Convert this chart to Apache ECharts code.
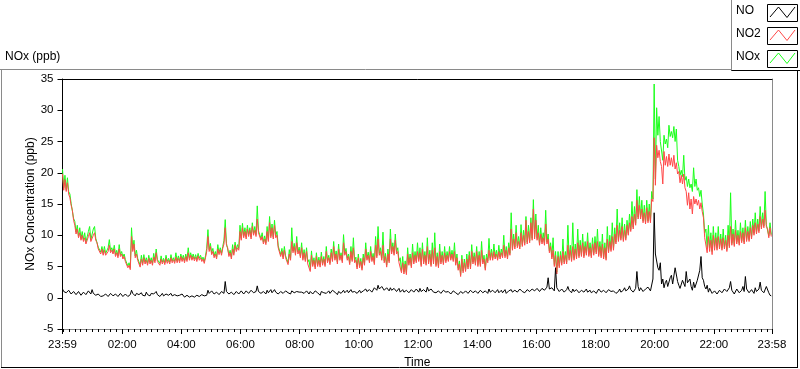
<!DOCTYPE html>
<html>
<head>
<meta charset="utf-8">
<script src="https://cdn.jsdelivr.net/npm/echarts@6/dist/echarts.min.js"></script>
<style>
html,body{margin:0;padding:0;background:#fff;}
#chart{width:800px;height:369px;}
</style>
</head>
<body>
<div id="chart"></div>
<script>
// time axis: minutes from midnight; first sample at 23:59 (-1), one sample every 2.5 min
const startMinute = -1;
const stepMinutes = 2.5;

const no = [
1.4,1.0, 1.2,0.8, 0.9,1.2, 1.0,0.6, 0.7,1.0, 0.9,0.5, 0.6,1.0, 0.8,0.4, 0.5,0.9, 0.9,0.5,
0.7,1.1, 1.0,0.6, 1.3,0.7, 0.8,0.4, 0.3,0.6, 0.4,0.2, 0.5,0.3, 0.3,0.6, 0.5,0.2, 0.4,0.7,
0.5,0.3, 0.3,0.6, 0.4,0.2, 0.5,0.7, 0.4,0.2,
0.4,0.6, 0.5,0.2, 0.3,0.5, 1.2,0.7, 0.6,0.3, 0.7,0.4, 0.5,0.8, 0.8,0.4, 0.6,0.3, 0.9,0.5,
0.5,0.3, 0.7,0.4, 0.6,0.9, 1.0,0.5, 0.4,0.2, 0.5,0.7, 0.3,0.5, 0.6,0.3, 0.4,0.6, 0.7,0.3,
0.3,0.5, 0.5,0.3, 0.6,0.4, 0.4,0.6,
0.3,0.1, 0.2,0.4, 0.4,0.1, 0.1,0.3, 0.3,0.1, 0.2,0.4, 0.4,0.2, 0.3,0.5, 0.5,0.3, 0.6,0.4,
1.2,0.7, 0.8,1.1, 0.9,0.6, 0.6,0.9, 0.8,0.5, 0.7,1.0, 1.0,0.7, 2.6,1.0, 0.9,0.6, 0.7,0.9,
0.8,0.5, 0.7,1.0, 0.9,0.6, 0.8,1.1,
0.9,0.6, 0.8,1.1, 1.0,0.7, 0.9,1.2, 1.1,0.8, 0.8,1.0, 1.9,1.0, 1.0,0.7, 0.7,1.0, 0.9,0.6,
1.2,0.8, 1.0,1.3, 0.8,0.5, 1.3,0.9, 0.9,0.6, 0.7,1.0, 1.0,0.7, 0.8,1.1, 1.2,0.8, 0.9,0.6,
1.1,1.4, 0.8,0.5, 1.0,1.3, 0.9,0.6,
0.9,1.2, 0.7,0.5, 1.1,0.8, 0.6,1.0, 0.9,0.6, 0.8,1.1, 1.2,0.8, 0.6,0.4, 1.0,1.3, 0.8,0.5,
0.7,1.0, 1.1,0.7, 0.9,1.2, 1.3,0.9, 0.8,0.5, 1.0,1.3, 0.7,0.5, 1.2,0.8, 0.9,1.2, 0.8,0.5,
1.3,0.9, 0.7,1.0, 1.0,0.7, 0.9,1.2,
0.8,1.1, 1.1,0.8, 1.4,1.0, 1.0,1.3, 1.3,0.9, 1.2,1.6, 1.6,1.2, 2.0,1.4, 1.4,1.8, 1.8,1.2,
1.2,1.6, 1.5,1.1, 1.6,1.2, 1.1,1.5, 1.4,1.0, 1.2,1.5, 0.9,1.2, 1.3,0.9, 0.8,1.2, 1.1,0.8,
0.9,1.3, 1.2,0.9, 1.0,1.4, 1.3,0.9,
1.5,1.0, 0.9,1.3, 1.3,0.9, 1.7,1.1, 1.0,1.4, 1.4,0.9, 1.2,0.8, 0.8,1.1, 1.1,0.7, 0.9,1.2,
1.3,0.9, 0.7,1.0, 1.0,0.6, 0.8,1.1, 1.2,0.8, 0.9,0.5, 0.6,1.0, 1.1,0.7, 0.8,1.1, 1.0,0.7,
0.9,1.2, 1.3,0.8, 0.8,1.1, 1.1,0.7,
0.9,1.2, 1.2,0.8, 0.8,1.1, 1.0,0.7, 1.4,0.9, 0.9,1.2, 1.1,0.8, 1.0,1.3, 0.8,1.1, 1.2,0.8,
1.0,1.3, 0.7,1.0, 1.1,0.8, 1.3,0.9, 0.9,1.2, 1.2,0.9, 1.0,1.4, 1.4,1.0, 1.1,0.8, 0.9,1.3,
1.3,1.0, 1.0,1.4, 1.6,1.1, 1.2,1.5,
1.4,1.0, 1.0,1.5, 1.8,1.2, 1.3,1.7, 3.2,1.4, 1.2,1.6, 1.6,1.1, 4.8,1.6, 1.5,1.0, 1.0,1.4,
1.3,0.9, 0.9,1.3, 1.8,1.2, 1.1,0.8, 1.4,1.0, 1.0,1.3, 1.2,0.8, 0.8,1.2, 1.3,0.9, 1.0,1.4,
0.9,1.2, 1.2,0.8, 0.7,1.1, 1.0,0.7,
1.0,1.4, 1.3,0.9, 0.8,1.2, 1.2,0.8, 0.9,1.3, 1.5,1.0, 0.7,1.1, 1.1,0.7, 0.6,1.0, 1.4,0.9,
0.8,1.2, 1.6,1.1, 1.0,1.4, 1.9,1.3, 1.2,0.9, 1.0,1.5, 4.2,1.8, 1.1,1.6, 1.5,1.0, 0.9,1.4,
1.2,1.7, 1.6,1.1, 1.1,3.0, 13.6,7.0,
6.8,4.8, 4.4,5.6, 2.2,3.0, 1.6,2.4, 2.8,1.8, 1.8,3.2, 3.6,2.2, 2.4,4.8, 4.6,2.6, 2.0,1.5,
1.7,2.8, 2.6,1.8, 4.2,2.4, 2.2,3.0, 1.8,1.2, 2.5,1.6, 1.6,2.8, 3.0,4.4, 6.6,3.2, 2.8,1.8,
1.4,2.0, 0.9,1.5, 1.2,0.7, 0.6,1.1,
1.0,0.6, 0.7,1.2, 1.3,0.8, 0.8,1.4, 1.5,1.0, 1.1,1.6, 2.6,1.2, 1.0,0.6, 0.9,1.4, 1.4,0.8,
0.7,1.2, 1.8,1.0, 3.4,1.4, 1.2,0.8, 0.8,1.3, 1.1,0.7, 1.6,1.0, 0.9,1.4, 2.5,1.2, 1.3,0.8,
1.0,1.8, 2.0,0.8, 0.4,0.3
];

const no2 = [
19.8,17.2, 18.9,17.0, 18.4,16.6, 16.0,14.8, 14.0,12.4, 11.6,10.2, 11.0,9.6, 10.4,9.2, 10.0,9.0, 9.6,8.6,
8.6,9.8, 10.4,9.0, 9.2,10.0, 10.4,9.2, 8.8,7.8, 7.8,7.0, 7.8,6.8, 7.6,6.8, 6.8,7.4, 8.4,7.2,
7.6,7.0, 7.8,6.6, 7.2,6.4, 7.8,6.6, 7.0,6.2,
6.6,5.8, 5.6,4.8, 5.2,4.5, 9.8,7.4, 8.6,6.4, 7.0,6.0, 5.8,4.9, 6.2,5.2, 6.4,5.4, 6.0,5.2,
6.3,5.4, 6.0,5.2, 6.5,5.6, 7.2,5.8, 6.0,5.2, 6.2,5.4, 6.0,5.3, 6.3,5.5, 6.0,5.4, 6.4,5.6,
6.1,5.5, 6.5,5.6, 6.3,5.6, 6.6,5.8,
6.4,5.6, 6.6,5.8, 7.2,6.0, 6.8,6.0, 6.6,5.9, 6.5,5.8, 6.7,6.0, 6.4,5.8, 6.2,5.5, 6.4,7.4,
9.8,7.4, 8.2,6.9, 7.4,6.4, 7.0,6.2, 7.8,6.9, 7.6,6.8, 7.9,8.6, 11.2,8.4, 8.0,6.6, 7.2,6.2,
7.8,6.8, 8.4,7.4, 8.0,7.6, 10.6,9.2,
11.2,9.6, 10.6,9.4, 11.0,9.8, 10.8,9.4, 11.4,10.0, 10.8,9.8, 12.6,10.4, 10.4,9.2, 9.8,8.6, 9.4,8.5,
10.6,9.0, 12.0,9.6, 11.2,9.4, 11.6,9.6, 10.0,8.0, 7.8,6.6, 7.4,6.2, 7.6,6.4, 6.4,5.3, 7.0,6.0,
9.0,7.2, 8.2,6.8, 8.8,7.0, 7.6,6.4,
8.0,6.0, 7.2,5.8, 7.4,5.4, 5.6,4.2, 6.8,5.0, 6.0,4.6, 6.6,5.0, 6.0,4.9, 6.6,5.2, 6.2,5.0,
7.4,5.6, 6.4,5.3, 7.2,5.8, 8.2,6.0, 7.0,5.4, 7.8,6.0, 6.8,5.6, 8.8,6.8, 7.4,6.0, 6.6,5.3,
7.4,5.8, 8.0,5.6, 6.0,4.6, 6.4,4.8,
5.8,4.4, 6.4,5.2, 7.8,6.0, 6.8,5.6, 7.4,5.8, 6.6,5.3, 8.4,6.4, 9.4,6.8, 7.4,6.0, 8.4,5.6,
6.6,4.9, 7.0,5.6, 9.4,7.0, 8.2,6.8, 9.2,7.0, 7.4,5.6, 5.8,4.0, 5.6,3.8, 5.4,3.7, 7.0,5.2,
6.4,4.8, 7.2,5.4, 6.8,5.6, 7.4,5.8,
7.2,5.0, 7.8,5.4, 6.8,5.2, 8.2,5.4, 7.0,5.0, 7.6,5.4, 8.0,5.0, 6.6,4.8, 7.4,5.4, 6.8,5.3,
7.2,5.6, 6.8,5.8, 7.4,6.0, 7.0,5.8, 7.4,5.2, 6.4,4.4, 5.4,3.4, 6.2,4.0, 5.6,4.2, 6.2,4.6,
6.8,4.6, 7.4,5.4, 6.6,5.2, 7.4,5.0,
6.8,5.0, 7.6,5.4, 6.2,4.4, 6.4,5.6, 7.6,6.0, 7.2,6.0, 7.4,6.2, 7.0,6.0, 7.4,6.2, 7.2,6.4,
8.4,6.4, 7.6,6.2, 8.0,6.8, 11.0,7.6, 9.4,7.8, 10.4,8.0, 9.0,7.8, 10.4,8.2, 10.0,8.4, 12.4,8.6,
10.6,8.8, 12.0,9.2, 14.2,9.4, 12.4,9.2,
10.4,8.4, 10.2,8.6, 9.6,8.4, 11.8,8.6, 9.4,7.2, 8.2,6.2, 7.6,5.0, 6.8,3.8, 6.6,4.8, 6.8,5.2,
7.4,5.4, 6.8,5.4, 8.4,6.0, 7.6,5.8, 8.2,6.0, 7.8,6.2, 8.8,6.4, 8.4,6.6, 8.8,6.4, 8.2,6.8,
9.0,6.6, 8.0,6.4, 8.6,6.8, 8.8,7.0,
9.0,6.6, 8.2,6.4, 8.6,6.2, 8.0,6.0, 9.4,7.2, 9.0,7.4, 9.8,7.6, 10.2,8.6, 11.6,9.0, 10.8,9.2,
11.4,9.0, 10.8,9.2, 11.6,10.0, 12.0,10.6, 13.0,11.0, 13.4,11.6, 15.6,12.6, 14.8,12.6, 14.2,12.0, 13.6,11.8,
14.4,12.0, 13.8,12.0, 15.8,15.4, 25.6,18.0,
24.4,22.4, 23.6,21.8, 21.0,18.2, 23.4,21.2, 22.6,21.0, 23.0,21.2, 22.4,21.0, 22.8,20.6, 21.6,19.8, 20.2,18.4,
19.6,18.2, 19.8,17.6, 17.0,14.8, 16.8,14.2, 15.8,13.4, 16.2,15.0, 15.8,14.8, 15.6,14.2, 15.2,13.8, 12.8,9.6,
9.8,7.2, 9.8,7.4, 9.2,6.9, 10.0,7.6,
9.6,7.6, 9.8,7.8, 9.4,7.6, 9.6,7.8, 9.2,7.4, 10.0,8.0, 11.4,8.4, 10.2,8.2, 10.8,8.6, 10.0,8.4,
10.6,8.8, 10.4,8.6, 11.2,9.0, 10.6,9.0, 11.2,9.4, 11.6,10.0, 12.0,10.2, 11.8,10.4, 13.0,11.0, 12.6,11.2,
14.0,11.4, 11.0,9.6, 11.2,9.8
];

const nox = [
20.6,17.6, 19.6,17.3, 19.2,17.0, 16.6,15.1, 14.8,12.7, 12.2,10.5, 11.6,9.9, 11.2,9.5, 10.6,9.3, 10.4,8.9,
8.9,10.6, 11.4,9.3, 9.5,11.0, 11.4,9.5, 9.4,8.1, 8.4,7.3, 8.2,7.1, 8.2,7.1, 7.1,8.0, 9.3,7.5,
8.0,7.3, 8.4,6.9, 7.6,6.7, 8.5,6.9, 7.4,6.5,
7.0,6.1, 6.0,5.1, 5.6,4.8, 11.2,7.7, 9.2,6.7, 7.6,6.3, 6.2,5.2, 6.8,5.5, 6.9,5.7, 6.4,5.5,
6.8,5.7, 6.4,5.5, 7.1,5.9, 7.8,6.1, 6.4,5.5, 6.7,5.7, 6.3,5.6, 6.8,5.8, 6.3,5.7, 6.9,5.9,
6.4,5.8, 7.2,5.9, 6.7,5.9, 7.0,6.1,
6.8,5.9, 7.0,6.1, 8.0,6.3, 7.2,6.3, 7.0,6.2, 6.9,6.1, 7.1,6.3, 6.8,6.1, 6.5,5.8, 6.7,7.9,
10.9,7.7, 8.7,7.2, 7.9,6.7, 7.4,6.5, 8.5,7.2, 8.0,7.1, 8.2,9.2, 12.5,8.7, 8.5,6.9, 7.6,6.5,
8.5,7.1, 8.9,7.7, 8.5,7.9, 11.6,9.5,
11.9,9.9, 11.2,9.7, 11.6,10.1, 11.2,9.7, 12.0,10.3, 11.4,10.1, 14.7,10.7, 10.9,9.5, 10.4,8.9, 9.9,8.8,
11.4,9.3, 13.0,9.9, 11.8,9.7, 12.4,9.9, 10.6,8.3, 8.3,6.9, 7.9,6.5, 8.2,6.7, 6.8,5.6, 7.7,6.3,
11.2,7.5, 8.7,7.1, 9.8,7.3, 8.1,6.7,
8.8,6.3, 7.7,6.1, 8.0,5.7, 6.1,4.5, 7.5,5.3, 6.4,4.9, 7.2,5.3, 6.5,5.2, 7.3,5.5, 6.6,5.3,
8.2,5.9, 6.8,5.6, 7.8,6.1, 9.0,6.3, 7.5,5.7, 8.6,6.3, 7.2,5.9, 10.1,7.1, 7.9,6.3, 7.0,5.6,
8.2,6.1, 9.6,5.9, 6.5,4.9, 7.0,5.1,
6.3,4.7, 7.0,5.5, 8.8,6.3, 7.3,5.9, 8.2,6.1, 7.1,5.6, 9.8,6.7, 11.4,7.1, 8.0,6.3, 10.5,5.9,
7.1,5.2, 7.8,5.9, 11.0,7.3, 8.8,7.1, 10.2,7.3, 8.0,5.9, 6.4,4.3, 6.6,4.1, 5.9,4.0, 8.0,5.5,
7.0,5.1, 8.6,5.7, 7.4,5.9, 8.8,6.1,
8.0,5.3, 8.8,5.7, 7.4,5.5, 9.6,5.7, 7.6,5.3, 8.8,5.7, 10.4,5.3, 7.2,5.1, 8.6,5.7, 7.4,5.6,
8.2,5.9, 7.4,6.1, 8.2,6.3, 7.6,6.1, 8.8,5.5, 7.0,4.7, 5.9,3.7, 6.8,4.3, 6.2,4.5, 7.0,4.9,
7.4,4.9, 8.5,5.7, 7.2,5.5, 8.2,5.3,
7.4,5.3, 9.0,5.7, 6.8,4.7, 7.0,5.9, 9.5,6.3, 7.8,6.3, 8.6,6.5, 7.6,6.3, 8.4,6.5, 7.8,6.7,
10.0,6.7, 8.2,6.5, 8.8,7.1, 13.6,7.9, 10.2,8.1, 11.6,8.3, 9.8,8.1, 11.7,8.5, 10.8,8.7, 13.0,8.9,
11.6,9.1, 12.8,9.5, 15.7,9.7, 13.4,9.5,
11.6,8.7, 11.2,8.9, 10.4,8.7, 14.0,8.9, 10.2,7.5, 8.8,6.5, 9.6,5.3, 7.4,4.1, 7.4,5.1, 7.4,5.5,
9.4,5.7, 7.4,5.7, 11.6,6.3, 8.4,6.1, 12.0,6.3, 8.6,6.5, 11.0,6.7, 9.2,6.9, 10.2,6.7, 9.0,7.1,
10.4,6.9, 8.8,6.7, 9.6,7.1, 9.8,7.3,
11.0,6.9, 9.0,6.7, 10.2,6.5, 8.8,6.3, 11.4,7.5, 10.0,7.7, 12.0,7.9, 11.2,8.9, 14.2,9.3, 12.0,9.5,
12.8,9.3, 11.8,9.5, 12.4,10.3, 13.4,10.9, 15.4,11.3, 14.6,11.9, 17.3,12.9, 16.2,12.9, 15.6,12.3, 14.8,12.1,
15.6,12.3, 15.0,12.3, 17.0,15.8, 34.2,19.0,
30.4,26.0, 29.0,25.0, 25.2,22.0, 26.0,24.6, 25.4,24.0, 27.6,25.8, 26.6,25.6, 27.4,25.0, 27.0,22.0, 21.0,19.6,
20.4,19.4, 22.8,18.8, 19.4,17.8, 19.0,17.6, 18.2,17.0, 20.8,17.8, 19.0,17.2, 17.6,16.2, 17.2,15.0, 13.4,10.4,
11.0,8.0, 11.6,8.0, 10.4,7.4, 11.4,8.2,
10.4,7.9, 11.4,8.1, 10.2,7.9, 11.0,8.1, 10.0,7.7, 11.6,8.3, 16.8,8.7, 11.0,8.5, 12.4,8.9, 10.8,8.7,
12.0,9.1, 11.2,8.9, 12.4,9.3, 11.4,9.3, 12.2,9.7, 12.6,10.3, 13.6,10.5, 12.6,10.7, 14.6,11.3, 13.6,11.5,
17.0,11.7, 11.6,9.9, 12.0,10.1
];

const tickMinutes = [-1,120,240,360,480,600,720,840,960,1080,1200,1320,1438];
const tickLabels = ['23:59','02:00','04:00','06:00','08:00','10:00','12:00','14:00','16:00','18:00','20:00','22:00','23:58'];
const legendNames = ['NO','NO2','NOx'];
const seriesColors = ['#000000','#ff4848','#1aff1a'];

const FONT = 'Liberation Sans';
function toPairs(arr){ return arr.map((v,i)=>[startMinute + i*stepMinutes, v]); }

const minorTicks = [];
for (let m = 0; m <= 1428; m += 12) minorTicks.push(m);

const chart = echarts.init(document.getElementById('chart'), null, {renderer:'canvas'});

const legendGraphics = [];
legendNames.forEach((name, k) => {
  const by = 4 + k*23;
  legendGraphics.push({type:'text', left:736, top: by + 1, style:{text:name, font:'12px "'+FONT+'"', fill:'#000'}});
  legendGraphics.push({type:'rect', shape:{x:767.5, y:by+0.5, width:30, height:17}, style:{fill:'#fff', stroke:'#000', lineWidth:1}});
  legendGraphics.push({type:'polyline', shape:{points:[[770,by+13],[778.5,by+3],[787,by+13.5],[795,by+3]]}, style:{stroke:seriesColors[k], lineWidth:1, fill:null}});
});

const option = {
  animation:false,
  backgroundColor:'#fff',
  textStyle:{fontFamily:FONT},
  grid:{left:62.5, top:79, right:28, bottom:40, containLabel:false, outerBoundsMode:'none'},
  xAxis:[
    {
      type:'value', min:-1, max:1438, gridIndex:0, position:'bottom',
      name:'Time', nameLocation:'middle', nameGap:28, nameMoveOverlap:false,
      nameTextStyle:{fontFamily:FONT, fontSize:12, color:'#000'},
      axisLine:{show:true, onZero:false, lineStyle:{color:'#8a8a8a', width:1}},
      axisTick:{show:true, customValues:tickMinutes, length:5, lineStyle:{color:'#000', width:1}},
      axisLabel:{show:true, customValues:tickMinutes, margin:10, fontFamily:FONT, fontSize:11.5, color:'#000',
        showMinLabel:true, showMaxLabel:true, hideOverlap:false,
        formatter:(v)=>{ const k = tickMinutes.indexOf(Math.round(v)); return k>=0 ? tickLabels[k] : ''; }},
      splitLine:{show:false}
    },
    {
      type:'value', min:-1, max:1438, gridIndex:0, position:'bottom',
      axisLine:{show:false, onZero:false},
      axisTick:{show:true, customValues:minorTicks, length:3, lineStyle:{color:'#000', width:1}},
      axisLabel:{show:false},
      splitLine:{show:false}
    },
    {
      type:'value', min:-1, max:1438, gridIndex:0, position:'top',
      axisLine:{show:true, onZero:false, lineStyle:{color:'#000', width:1}},
      axisTick:{show:false}, axisLabel:{show:false}, splitLine:{show:false}
    }
  ],
  yAxis:[
    {
      type:'value', min:-5, max:35, interval:5, position:'left',
      name:'NOx Concentration (ppb)', nameLocation:'middle', nameGap:26, nameRotate:90, nameMoveOverlap:false,
      nameTextStyle:{fontFamily:FONT, fontSize:12, color:'#000'},
      axisLine:{show:true, onZero:false, lineStyle:{color:'#000', width:1}},
      axisTick:{show:true, length:5, lineStyle:{color:'#000'}},
      axisLabel:{margin:9, fontFamily:FONT, fontSize:11.5, color:'#000'},
      splitLine:{show:false}
    },
    {
      type:'value', min:-5, max:35, interval:5, position:'right',
      axisLine:{show:true, onZero:false, lineStyle:{color:'#8a8a8a', width:1}},
      axisTick:{show:false}, axisLabel:{show:false}, splitLine:{show:false}
    }
  ],
  series:[
    {name:'NOx', type:'line', data:toPairs(nox), showSymbol:false, symbol:'none', z:2,
      lineStyle:{color:seriesColors[2], width:1}, itemStyle:{color:seriesColors[2]}},
    {name:'NO2', type:'line', data:toPairs(no2), showSymbol:false, symbol:'none', z:3,
      lineStyle:{color:seriesColors[1], width:1}, itemStyle:{color:seriesColors[1]}},
    {name:'NO', type:'line', data:toPairs(no), showSymbol:false, symbol:'none', z:4,
      lineStyle:{color:seriesColors[0], width:1}, itemStyle:{color:seriesColors[0]}}
  ],
  graphic:[
    {type:'line', shape:{x1:0, y1:69.5, x2:731, y2:69.5}, style:{stroke:'#8a8a8a', lineWidth:1}},
    {type:'line', shape:{x1:1.5, y1:69.5, x2:1.5, y2:368}, style:{stroke:'#8a8a8a', lineWidth:1}},
    {type:'line', shape:{x1:1, y1:367.5, x2:798, y2:367.5}, style:{stroke:'#000', lineWidth:1}},
    {type:'line', shape:{x1:797.5, y1:71, x2:797.5, y2:368}, style:{stroke:'#000', lineWidth:1}},
    {type:'line', shape:{x1:731.5, y1:0, x2:731.5, y2:71}, style:{stroke:'#8a8a8a', lineWidth:1}},
    {type:'line', shape:{x1:731.5, y1:70.5, x2:800, y2:70.5}, style:{stroke:'#000', lineWidth:1}},
    {type:'text', left:5, top:51, style:{text:'NOx (ppb)', font:'12px "'+FONT+'"', fill:'#000'}}
  ].concat(legendGraphics)
};
chart.setOption(option);
</script>
</body>
</html>
